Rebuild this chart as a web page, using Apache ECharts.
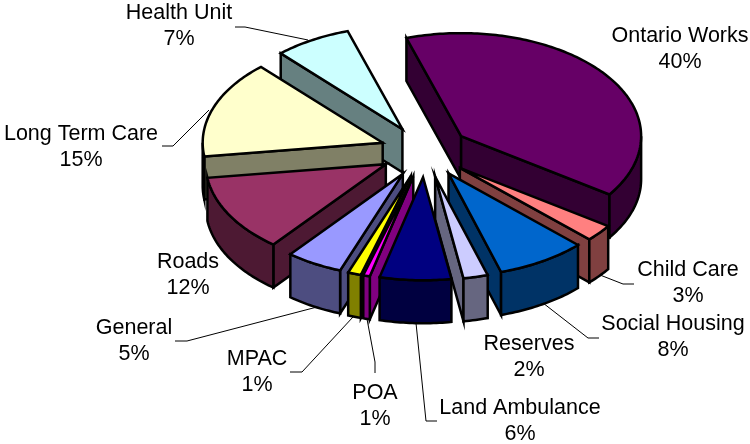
<!DOCTYPE html>
<html>
<head>
<meta charset="utf-8">
<style>
  html, body { margin: 0; padding: 0; background: #fff; }
  #chart1 { width: 750px; height: 444px; }
</style>
<script src="https://cdn.jsdelivr.net/npm/echarts@6/dist/echarts.min.js"></script>
</head>
<body>
<div id="chart1"></div>
<script>
// data, clockwise from the start angle (labels show them rounded)
const names = ["Ontario Works", "Child Care", "Social Housing", "Reserves", "Land Ambulance", "POA", "MPAC", "General", "Roads", "Long Term Care", "Health Unit"];
const shares = [39.5, 2.64, 8.06, 2.2, 6.4, 0.6, 1.18, 5.08, 12.14, 15.3, 6.9];
const topColors = ["#660066", "#FF8080", "#0066CC", "#CCCCFF", "#000080", "#FF00FF", "#FFFF00", "#9999FF", "#993366", "#FFFFCC", "#CCFFFF"];
const sideColors = ["#330033", "#804040", "#003366", "#666680", "#000040", "#800080", "#808000", "#4D4D80", "#4D1933", "#808066", "#668080"];

// painter's order, back slices first
const drawRank = [2, 3, 8, 9, 10, 7, 6, 5, 4, 1, 0];

// layout of the fake 3d pie
const startAngle = -17.7;
const cx = 425, cy = 151.5, rx = 180, ry = 103, depth = 43, explode = 0.25;
const fontSize = 21.5, lineGap = 26;

// label centre [x, y of first line] and leader line per slice
const labelPos = [[680, 36], [688, 270], [673, 324], [529, 344], [520, 408], [375, 393], [257, 359], [134, 328], [188, 262], [81, 134], [179, 13]];
const leaders = [
  null,
  [[634, 284], [623, 284], [600, 275]],
  [[599, 338], [588, 338], [543, 303]],
  null,
  [[437, 421], [426, 421], [416, 323]],
  [[375, 373], [375, 362], [367, 319]],
  [[290, 372], [302, 372], [353, 317]],
  [[175, 341], [187, 341], [317, 307]],
  null,
  [[162, 146], [173, 146], [209, 110]],
  [[235, 27], [245, 27], [308, 40]]
];

const total = shares.reduce((a, b) => a + b, 0);

const point = (deg, ox, oy, r) => {
  const t = deg * Math.PI / 180;
  return [ox + rx * r * Math.sin(t), oy - ry * r * Math.cos(t)];
};

const arcPoints = (a0, a1, ox, oy) => {
  const pts = [];
  const steps = Math.max(2, Math.ceil(a1 - a0));
  for (let k = 0; k <= steps; k++) {
    pts.push(point(a0 + (a1 - a0) * k / steps, ox, oy, 1));
  }
  return pts;
};

const renderSlice = (params, api) => {
  const i = params.dataIndex;
  const from = startAngle + shares.slice(0, i).reduce((a, b) => a + b, 0) / total * 360;
  const to = from + api.value(0) / total * 360;
  const [ax, ay] = point((from + to) / 2, cx, cy, explode);
  const apex = [ax, ay];
  const down = p => [p[0], p[1] + depth];
  const sinDeg = d => Math.sin(d * Math.PI / 180);

  const arc = arcPoints(from, to, ax, ay);
  const first = arc[0], last = arc[arc.length - 1];

  const face = (points, fill) => ({
    type: "polygon",
    shape: { points: points },
    style: { fill: fill, stroke: "#000", lineWidth: 2.5, lineJoin: "miter", miterLimit: 10 }
  });

  // only the walls that look at the viewer
  const parts = [];
  if (sinDeg(from) < 0) parts.push(face([apex, first, down(first), down(apex)], sideColors[i]));
  if (sinDeg(to) > 0) parts.push(face([apex, last, down(last), down(apex)], sideColors[i]));
  const wallFrom = Math.max(from, 90), wallTo = Math.min(to, 270);
  if (wallTo > wallFrom) {
    const rim = arcPoints(wallFrom, wallTo, ax, ay);
    parts.push(face(rim.concat(rim.map(down).reverse()), sideColors[i]));
  }
  parts.push(face([apex].concat(arc), topColors[i]));
  parts.forEach((p, k) => { p.z2 = drawRank[i] * 10 + k; });

  return { type: "group", children: parts };
};

const renderLabel = (params, api) => {
  const i = params.dataIndex;
  const children = [];
  if (leaders[i]) {
    children.push({
      type: "polyline",
      z2: 200,
      shape: { points: leaders[i] },
      style: { fill: null, stroke: "#000", lineWidth: 1 }
    });
  }
  [names[i], Math.round(api.value(0)) + "%"].forEach((line, k) => {
    children.push({
      type: "text",
      z2: 201,
      x: labelPos[i][0],
      y: labelPos[i][1] + k * lineGap,
      style: {
        text: line,
        fill: "#000",
        font: fontSize + 'px "Liberation Sans", Arial, sans-serif',
        align: "center",
        verticalAlign: "middle"
      }
    });
  });
  return { type: "group", children: children };
};

const chart1 = echarts.init(document.getElementById("chart1"), null, { renderer: "canvas" });
chart1.setOption({
  animation: false,
  backgroundColor: "#fff",
  series: [
    { type: "custom", coordinateSystem: "none", silent: true, renderItem: renderSlice, data: shares.map(v => [v]) },
    { type: "custom", coordinateSystem: "none", silent: true, renderItem: renderLabel, data: shares.map(v => [v]) }
  ]
});
</script>
</body>
</html>
